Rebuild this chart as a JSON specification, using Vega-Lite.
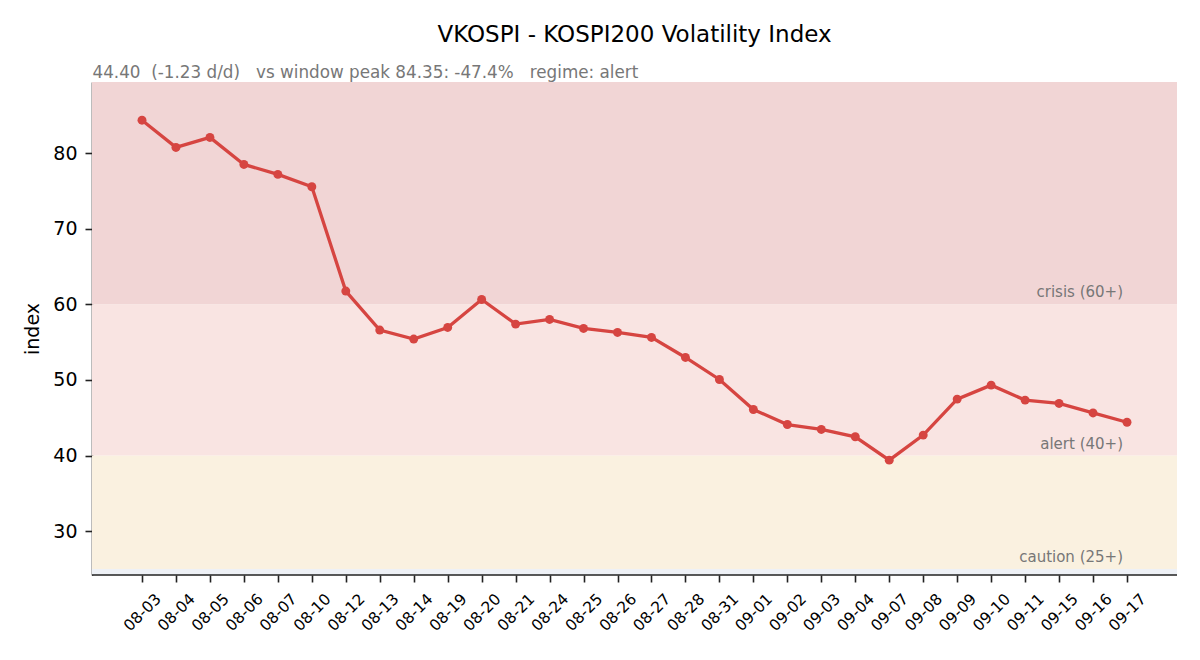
{
  "$schema": "https://vega.github.io/schema/vega-lite/v6.json",
  "autosize": {"type": "none"},
  "width": 1085,
  "height": 493,
  "padding": {"left": 92, "top": 82, "right": 23, "bottom": 85},
  "background": "white",
  "title": {
    "text": "VKOSPI - KOSPI200 Volatility Index",
    "anchor": "middle",
    "font": "DejaVu Sans",
    "fontSize": 23,
    "fontWeight": "normal",
    "color": "#000000",
    "offset": 17
  },
  "config": {
    "view": {"stroke": null},
    "font": "DejaVu Sans",
    "axis": {"grid": false, "labelFont": "DejaVu Sans", "titleFont": "DejaVu Sans", "domainColor": "#222222", "tickColor": "#222222", "labelColor": "#000000", "titleColor": "#000000", "domainWidth": 1.6, "tickWidth": 1.6, "tickSize": 7}
  },
  "datasets": {
    "series": [
      {"date": "08-03", "value": 84.35},
      {"date": "08-04", "value": 80.75},
      {"date": "08-05", "value": 82.07},
      {"date": "08-06", "value": 78.5},
      {"date": "08-07", "value": 77.18},
      {"date": "08-10", "value": 75.55},
      {"date": "08-12", "value": 61.75},
      {"date": "08-13", "value": 56.59},
      {"date": "08-14", "value": 55.4},
      {"date": "08-19", "value": 56.94},
      {"date": "08-20", "value": 60.64},
      {"date": "08-21", "value": 57.38},
      {"date": "08-24", "value": 58.0},
      {"date": "08-25", "value": 56.81},
      {"date": "08-26", "value": 56.28},
      {"date": "08-27", "value": 55.62},
      {"date": "08-28", "value": 52.97},
      {"date": "08-31", "value": 50.06},
      {"date": "09-01", "value": 46.09},
      {"date": "09-02", "value": 44.1},
      {"date": "09-03", "value": 43.45},
      {"date": "09-04", "value": 42.48},
      {"date": "09-07", "value": 39.39},
      {"date": "09-08", "value": 42.7},
      {"date": "09-09", "value": 47.46},
      {"date": "09-10", "value": 49.31},
      {"date": "09-11", "value": 47.33},
      {"date": "09-15", "value": 46.89},
      {"date": "09-16", "value": 45.63},
      {"date": "09-17", "value": 44.4}
    ],
    "bands": [
      {"regime": "calm", "lo": 24.2, "hi": 25, "color": "#eef1f6", "label": ""},
      {"regime": "caution", "lo": 25, "hi": 40, "color": "#faf1e0", "label": "caution (25+)"},
      {"regime": "alert", "lo": 40, "hi": 60, "color": "#f9e4e2", "label": "alert (40+)"},
      {"regime": "crisis", "lo": 60, "hi": 89.4, "color": "#f1d5d5", "label": "crisis (60+)"}
    ]
  },
  "resolve": {"axis": {"x": "independent"}},
  "layer": [
    {
      "data": {"name": "bands"},
      "mark": {"type": "rect"},
      "encoding": {
        "y": {"field": "lo", "type": "quantitative", "scale": {"domain": [24.2, 89.4], "nice": false, "zero": false}},
        "y2": {"field": "hi"},
        "color": {"field": "color", "type": "nominal", "scale": null}
      }
    },
    {
      "data": {"name": "bands"},
      "transform": [{"filter": "datum.regime == 'calm'"}],
      "mark": {"type": "rule", "color": "#222222", "strokeWidth": 1.6},
      "encoding": {"y": {"field": "lo", "type": "quantitative"}}
    },
    {
      "data": {"name": "series"},
      "mark": {"type": "line", "color": "#d64541", "strokeWidth": 3.3},
      "encoding": {
        "x": {
          "field": "date", "type": "ordinal", "sort": null,
          "scale": {"type": "point", "padding": 0, "range": [50, 1035], "domain": ["08-03", "08-04", "08-05", "08-06", "08-07", "08-10", "08-12", "08-13", "08-14", "08-19", "08-20", "08-21", "08-24", "08-25", "08-26", "08-27", "08-28", "08-31", "09-01", "09-02", "09-03", "09-04", "09-07", "09-08", "09-09", "09-10", "09-11", "09-15", "09-16", "09-17"]},
          "axis": {"title": null, "domain": false, "labelAngle": -45, "labelAlign": "center", "labelBaseline": "middle", "labelFontSize": 15.5, "labelPadding": 30}
        },
        "y": {
          "field": "value", "type": "quantitative",
          "axis": {"title": "index", "values": [30, 40, 50, 60, 70, 80], "labelFontSize": 19, "titleFontSize": 19, "titleFontWeight": "normal", "labelPadding": 8, "titlePadding": 10}
        }
      }
    },
    {
      "data": {"name": "series"},
      "mark": {"type": "circle", "color": "#d64541", "opacity": 1, "size": 80},
      "encoding": {
        "x": {"field": "date", "type": "ordinal", "sort": null, "axis": null},
        "y": {"field": "value", "type": "quantitative"}
      }
    },
    {
      "data": {"name": "bands"},
      "transform": [{"filter": "datum.label != ''"}, {"calculate": "'09-17'", "as": "date"}],
      "mark": {"type": "text", "align": "right", "baseline": "alphabetic", "dx": -4, "dy": -7, "fontSize": 15, "color": "#777777", "font": "DejaVu Sans"},
      "encoding": {
        "x": {
          "field": "date", "type": "ordinal", "sort": null,
          "axis": {"orient": "top", "title": "44.40\u00a0\u00a0(-1.23 d/d)\u00a0\u00a0\u00a0vs window peak 84.35: -47.4%\u00a0\u00a0\u00a0regime: alert", "titleAnchor": "start", "titleAlign": "left", "titleX": 0, "titleBaseline": "alphabetic", "titleFontSize": 16.8, "titleFontWeight": "normal", "titleColor": "#777777", "titlePadding": 5, "domain": false, "ticks": false, "labels": false}
        },
        "y": {"field": "lo", "type": "quantitative"},
        "text": {"field": "label"}
      }
    }
  ]
}
